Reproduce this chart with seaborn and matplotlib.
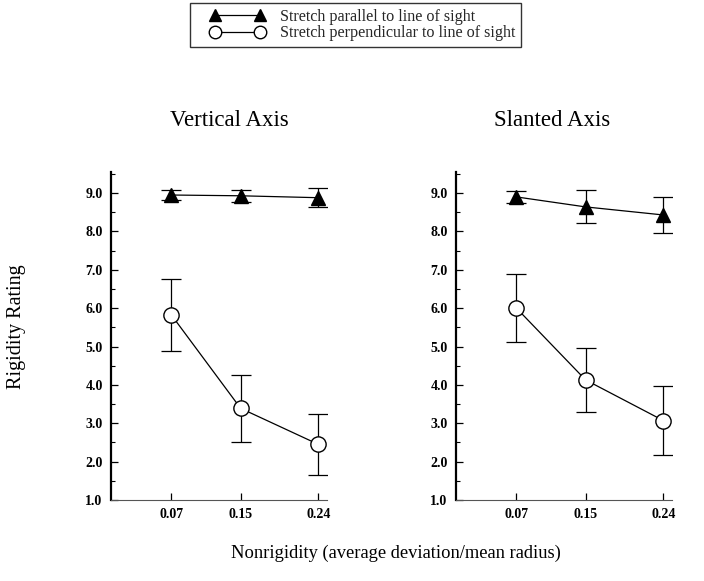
import matplotlib
matplotlib.use("Agg")
import matplotlib.pyplot as plt
import seaborn as sns
import pandas as pd
import numpy as np
from matplotlib.lines import Line2D
from matplotlib.legend_handler import HandlerLine2D
from matplotlib.ticker import MultipleLocator

sns.set_theme(style="ticks")
plt.rcParams['font.family'] = ['Liberation Serif', 'DejaVu Serif']

# ---- data ----
nonrigidity = [0.07, 0.15, 0.24]
panels = ["Vertical Axis", "Slanted Axis"]
series = ["Stretch parallel to line of sight", "Stretch perpendicular to line of sight"]

vert_parallel = [8.95, 8.93, 8.88]
vert_parallel_err = [0.13, 0.16, 0.24]
vert_perp = [5.82, 3.39, 2.45]
vert_perp_err = [0.93, 0.87, 0.79]

slant_parallel = [8.90, 8.64, 8.43]
slant_parallel_err = [0.16, 0.43, 0.46]
slant_perp = [6.00, 4.13, 3.07]
slant_perp_err = [0.88, 0.84, 0.90]

ytick_labels = ["1.0", "2.0", "3.0", "4.0", "5.0", "6.0", "7.0", "8.0", "9.0"]

panel_data = {
    "Vertical Axis": [(vert_parallel, vert_parallel_err), (vert_perp, vert_perp_err)],
    "Slanted Axis": [(slant_parallel, slant_parallel_err), (slant_perp, slant_perp_err)],
}

styles = {
    series[0]: dict(marker="^", mfc="black", mec="black", ms=9.5),
    series[1]: dict(marker="o", mfc="white", mec="black", ms=11),
}

fig = plt.figure(figsize=(7.04, 5.81), dpi=100)
W, H = 704, 581
ax_lefts = [111, 456]
ax_w = 216
ax_top, ax_bot = 172, 500
title_x = [229, 552]

for pi, panel in enumerate(panels):
    ax = fig.add_axes([ax_lefts[pi] / W, (H - ax_bot) / H, ax_w / W, (ax_bot - ax_top) / H])
    rows = []
    for si, s in enumerate(series):
        vals, errs = panel_data[panel][si]
        for x, v in zip(nonrigidity, vals):
            rows.append(dict(x=x, y=v, series=s))
    df = pd.DataFrame(rows)
    for si, s in enumerate(series):
        vals, errs = panel_data[panel][si]
        st = styles[s]
        ax.errorbar(nonrigidity, vals, yerr=errs, fmt="none", ecolor="black",
                    elinewidth=0.9, capsize=7.5, capthick=0.9, zorder=2)
        sns.lineplot(data=df[df.series == s], x="x", y="y", ax=ax, color="black",
                     linewidth=0.9, marker=st["marker"], markersize=st["ms"],
                     markerfacecolor=st["mfc"], markeredgecolor=st["mec"],
                     markeredgewidth=1.0, legend=False, zorder=3)
    ax.set_xlim(0, 0.25)
    ax.set_ylim(1.0, 9.55)
    ax.set_xticks(nonrigidity)
    ax.set_xticklabels([f"{v:.2f}" for v in nonrigidity])
    ax.set_yticks(np.arange(1, 10))
    ax.set_yticklabels(ytick_labels)
    ax.yaxis.set_minor_locator(MultipleLocator(0.5))
    ax.tick_params(axis="both", which="major", direction="in", length=5, width=0.9,
                   labelsize=10, color="black", labelcolor="black", pad=6)
    ax.tick_params(axis="y", which="minor", direction="in", length=3, width=0.8, color="black")
    for lab in ax.get_xticklabels() + ax.get_yticklabels():
        lab.set_fontweight("bold")
    ax.spines["top"].set_visible(False)
    ax.spines["right"].set_visible(False)
    ax.spines["left"].set_linewidth(1.6)
    ax.spines["left"].set_color("black")
    ax.spines["bottom"].set_linewidth(0.8)
    ax.spines["bottom"].set_color("#555555")
    ax.set_xlabel("")
    ax.set_ylabel("")
    ax.set_facecolor("white")
    fig.text(title_x[pi] / W, (H - 126) / H, panel, ha="center", va="baseline",
             fontsize=16.5, color="black")

fig.text(0.024, (H - 327) / H, "Rigidity Rating", rotation=90, ha="center", va="center",
         fontsize=14.5, color="black")
fig.text(396 / W, (H - 553) / H, "Nonrigidity (average deviation/mean radius)",
         ha="center", va="center", fontsize=13.3, color="black")

handles = [
    Line2D([0], [0], color="black", lw=0.9, marker="^", ms=8, mfc="black", mec="black"),
    Line2D([0], [0], color="black", lw=0.9, marker="o", ms=9, mfc="white", mec="black"),
]
hmap = {h: HandlerLine2D(marker_pad=1.2, numpoints=2) for h in handles}
leg = fig.legend(handles, series, loc="upper center", bbox_to_anchor=(355.5 / W, (H - 3) / H),
                 frameon=True, fancybox=False, numpoints=2, fontsize=11.6,
                 handlelength=5.2, borderpad=0.35, labelspacing=0.05, handletextpad=0.05,
                 borderaxespad=0, handler_map=hmap)
leg.get_frame().set_edgecolor("black")
leg.get_frame().set_linewidth(1.0)

fig.savefig("out.png", dpi=100, facecolor="white")
